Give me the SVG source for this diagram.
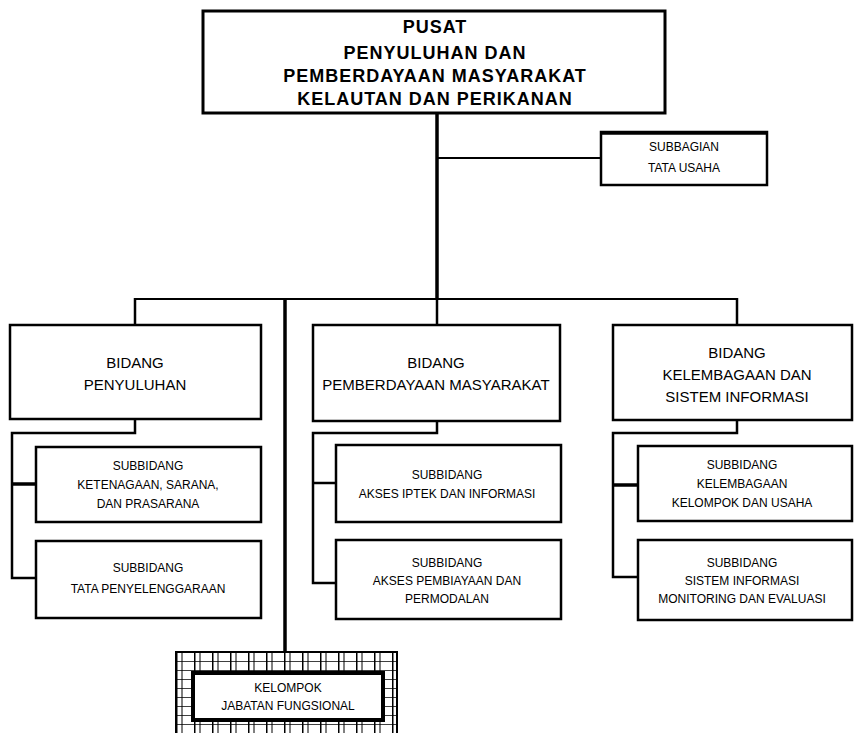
<svg xmlns="http://www.w3.org/2000/svg" width="857" height="733" viewBox="0 0 857 733">
<defs>
<style>
.box{fill:#fff;stroke:#000;stroke-width:2.5}
.main{fill:#fff;stroke:#000;stroke-width:3}
.ln{stroke:#000;fill:none;stroke-width:2.5}
.thk{stroke:#000;fill:none;stroke-width:3.5}
.thin{stroke:#000;fill:none;stroke-width:2}
text{font-family:"Liberation Sans",Arial,sans-serif;fill:#000;text-anchor:middle}
.t1{font-size:18px;font-weight:bold;letter-spacing:1px}
.t2{font-size:15px}
.t3{font-size:12px}
</style>
<pattern id="grid" x="176" y="652" width="18" height="9" patternUnits="userSpaceOnUse">
<rect width="18" height="9" fill="#fff"/>
<line x1="0" y1="0" x2="18" y2="0" stroke="#000" stroke-width="1.5"/>
<line x1="0.75" y1="0" x2="0.75" y2="9" stroke="#000" stroke-width="1.5"/>
<line x1="6" y1="0" x2="6" y2="9" stroke="#000" stroke-width="1"/>
</pattern>
</defs>

<g id="connectors">
<line class="thk" x1="437" y1="113" x2="437" y2="299"/>
<line class="thin" x1="437" y1="158" x2="601" y2="158"/>
<line class="thin" x1="135" y1="299" x2="738" y2="299"/>
<line class="ln" x1="135" y1="298" x2="135" y2="325"/>
<line class="ln" x1="437" y1="298" x2="437" y2="325"/>
<line class="ln" x1="737" y1="298" x2="737" y2="325"/>
<line class="thk" x1="285" y1="298" x2="285" y2="652"/>
<polyline class="ln" points="135,419 135,433 12,433 12,578 36,578"/>
<line class="thk" x1="12" y1="484" x2="36" y2="484"/>
<polyline class="ln" points="437,421 437,433 313,433 313,583 336,583"/>
<line class="ln" x1="313" y1="483" x2="336" y2="483"/>
<polyline class="ln" points="737,420 737,433 613,433 613,577 638,577"/>
<line class="thk" x1="613" y1="485" x2="638" y2="485"/>
</g>

<g id="pusat">
<rect class="main" x="203" y="11" width="462" height="102"/>
<text class="t1" x="435" y="33">PUSAT</text>
<text class="t1" x="435" y="59">PENYULUHAN DAN</text>
<text class="t1" x="435" y="82">PEMBERDAYAAN MASYARAKAT</text>
<text class="t1" x="435" y="105">KELAUTAN DAN PERIKANAN</text>
</g>

<g id="subbagian-tu">
<rect class="box" x="601" y="132" width="166" height="53"/>
<line class="thk" x1="601" y1="133" x2="767" y2="133"/>
<text class="t3" x="684" y="151">SUBBAGIAN</text>
<text class="t3" x="684" y="172">TATA USAHA</text>
</g>

<g id="bidang-penyuluhan">
<rect class="box" x="10" y="325" width="251" height="94"/>
<text class="t2" x="135" y="368">BIDANG</text>
<text class="t2" x="135" y="390">PENYULUHAN</text>
</g>

<g id="bidang-pemberdayaan">
<rect class="box" x="313" y="325" width="247" height="96"/>
<text class="t2" x="436" y="368">BIDANG</text>
<text class="t2" x="436" y="390">PEMBERDAYAAN MASYARAKAT</text>
</g>

<g id="bidang-kelembagaan">
<rect class="box" x="613" y="325" width="239" height="95"/>
<text class="t2" x="737" y="358">BIDANG</text>
<text class="t2" x="737" y="380">KELEMBAGAAN DAN</text>
<text class="t2" x="737" y="402">SISTEM INFORMASI</text>
</g>

<g id="sub-ketenagaan">
<rect class="box" x="36" y="447" width="225" height="75"/>
<text class="t3" x="148" y="470">SUBBIDANG</text>
<text class="t3" x="148" y="489">KETENAGAAN, SARANA,</text>
<text class="t3" x="148" y="508">DAN PRASARANA</text>
</g>

<g id="sub-tata-penyelenggaraan">
<rect class="box" x="36" y="541" width="225" height="77"/>
<text class="t3" x="148" y="572">SUBBIDANG</text>
<text class="t3" x="148" y="593">TATA PENYELENGGARAAN</text>
</g>

<g id="sub-akses-iptek">
<rect class="box" x="336" y="445" width="225" height="77"/>
<text class="t3" x="447" y="479">SUBBIDANG</text>
<text class="t3" x="447" y="498">AKSES IPTEK DAN INFORMASI</text>
</g>

<g id="sub-akses-pembiayaan">
<rect class="box" x="336" y="540" width="225" height="79"/>
<text class="t3" x="447" y="567">SUBBIDANG</text>
<text class="t3" x="447" y="585">AKSES PEMBIAYAAN DAN</text>
<text class="t3" x="447" y="603">PERMODALAN</text>
</g>

<g id="sub-kelembagaan">
<rect class="box" x="638" y="446" width="214" height="75"/>
<text class="t3" x="742" y="469">SUBBIDANG</text>
<text class="t3" x="742" y="488">KELEMBAGAAN</text>
<text class="t3" x="742" y="507">KELOMPOK DAN USAHA</text>
</g>

<g id="sub-sistem-informasi">
<rect class="box" x="638" y="540" width="214" height="80"/>
<text class="t3" x="742" y="567">SUBBIDANG</text>
<text class="t3" x="742" y="585">SISTEM INFORMASI</text>
<text class="t3" x="742" y="603">MONITORING DAN EVALUASI</text>
</g>

<g id="kelompok-jabatan-fungsional">
<rect x="176" y="652" width="221" height="84" fill="url(#grid)" stroke="#000" stroke-width="2"/>
<rect x="193" y="673" width="190" height="47" fill="#fff" stroke="#000" stroke-width="4"/>
<text class="t3" x="288" y="692">KELOMPOK</text>
<text class="t3" x="288" y="710">JABATAN FUNGSIONAL</text>
</g>
</svg>
